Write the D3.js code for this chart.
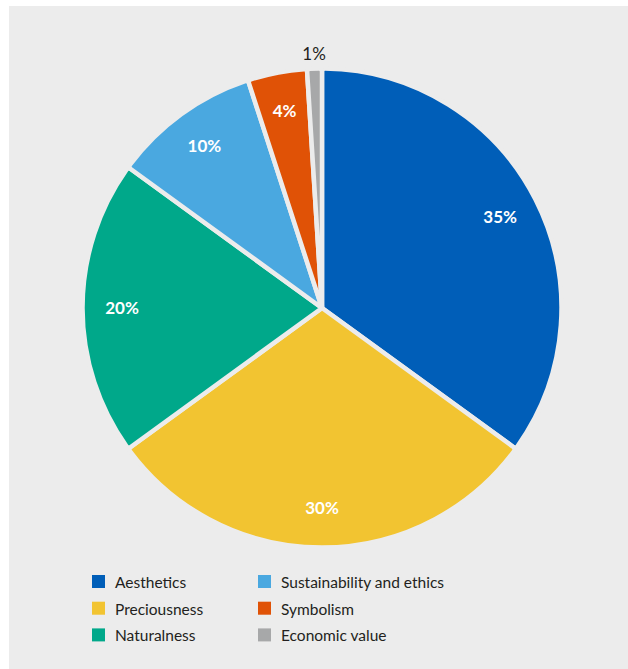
<!DOCTYPE html>
<html><head><meta charset="utf-8">
<script src="https://cdn.jsdelivr.net/npm/d3@7"></script>
<style>html,body{margin:0;padding:0;background:#fff;}svg{display:block;}</style>
</head><body>
<script>
const categories = ["Aesthetics","Preciousness","Naturalness","Sustainability and ethics","Symbolism","Economic value"];
const values = [35,30,20,10,4,1];
const labels = ["35%","30%","20%","10%","4%","1%"];
const colors = ["#005eb8","#f2c431","#00a88a","#4aa8e0","#e05206","#a7a8a9"];
const legendOrder = [0,3,1,4,2,5];

const W=628,H=669,bg="#ececec";
const svg=d3.select("body").append("svg").attr("width",W).attr("height",H);
svg.append("rect").attr("x",9).attr("y",6).attr("width",W-9).attr("height",H-6).attr("fill",bg);

const cx=322,cy=308,R=239.5;
const data=categories.map((c,i)=>({cat:c,value:values[i],label:labels[i],color:colors[i]}));
const pie=d3.pie().sort(null).value(d=>d.value);
const arcs=pie(data);
const arc=d3.arc().innerRadius(0).outerRadius(R).cornerRadius(3);
const g=svg.append("g").attr("transform",`translate(${cx},${cy})`);
g.selectAll("path").data(arcs).join("path")
 .attr("d",arc).attr("fill",d=>d.data.color)
 .attr("stroke",bg).attr("stroke-width",4.5).attr("stroke-linejoin","round");

const inArc=d3.arc().innerRadius(200).outerRadius(200);
const outArc=d3.arc().innerRadius(254).outerRadius(254);
g.selectAll("text.pct").data(arcs).join("text").attr("class","pct")
 .attr("transform",d=>{const p=(d.data.value<2?outArc:inArc).centroid(d);return `translate(${p[0]},${p[1]})`;})
 .attr("text-anchor","middle").attr("dy","0.35em")
 .attr("font-family","Lato, sans-serif")
 .attr("font-weight",d=>d.data.value<2?"normal":"bold")
 .attr("font-size",17)
 .attr("fill",d=>d.data.value<2?"#231f20":"#fff")
 .text(d=>d.data.label);

const lg=svg.append("g");
legendOrder.forEach((idx,k)=>{
  const col=k%2,row=Math.floor(k/2);
  const x=[92,258][col], y=575+row*26.7;
  lg.append("rect").attr("x",x).attr("y",y).attr("width",13).attr("height",13).attr("fill",colors[idx]);
  lg.append("text").attr("x",x+23).attr("y",y+13).attr("font-family","Lato, sans-serif")
    .attr("font-size",15.5).attr("fill","#231f20").text(categories[idx]);
});
</script>
</body></html>
